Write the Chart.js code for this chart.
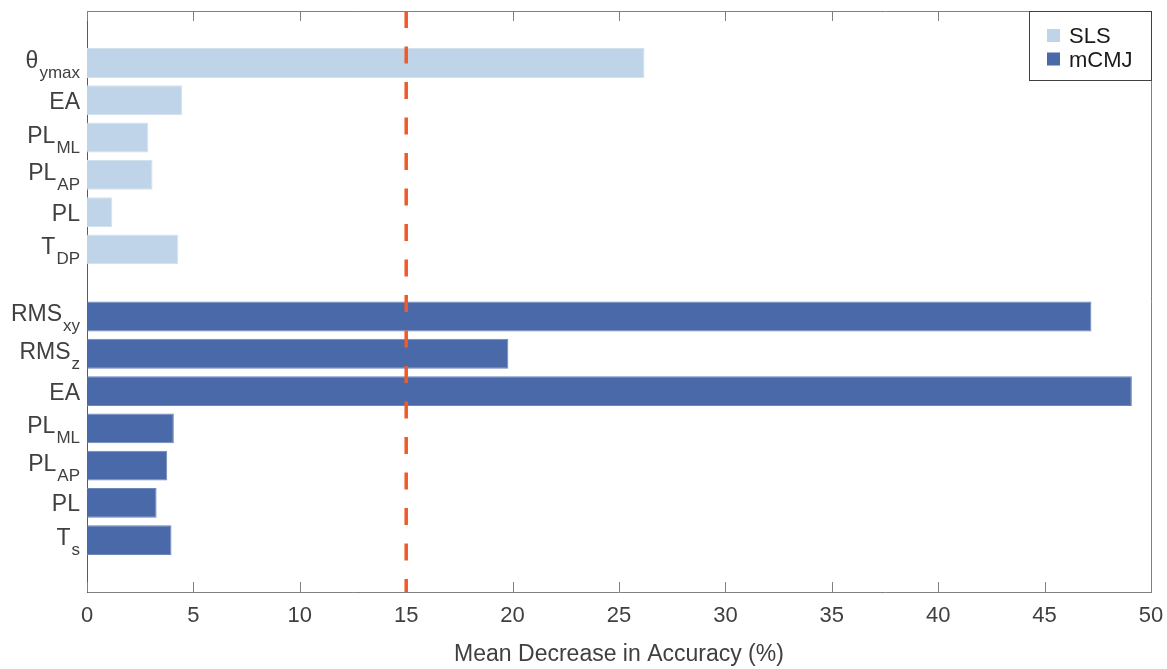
<!DOCTYPE html>
<html>
<head>
<meta charset="utf-8">
<script src="https://cdn.jsdelivr.net/npm/chart.js@4/dist/chart.umd.min.js"></script>
<style>
  html, body { margin: 0; padding: 0; background: #fff; }
  #wrap { width: 1167px; height: 669px; position: relative; }
</style>
</head>
<body>
<div id="wrap"><canvas id="ch"></canvas></div>
<script>
// ── data ───────────────────────────────────────────────────────────────────
// labels use "_" to mark the subscript part
const slsLabels  = ['θ_ymax', 'EA', 'PL_ML', 'PL_AP', 'PL', 'T_DP'];
const slsValues  = [26.2, 4.47, 2.88, 3.08, 1.19, 4.29];
const slsRows    = [1, 2, 3, 4, 5, 6];

const cmjLabels  = ['RMS_xy', 'RMS_z', 'EA', 'PL_ML', 'PL_AP', 'PL', 'T_s'];
const cmjValues  = [47.2, 19.8, 49.1, 4.08, 3.77, 3.27, 3.97];
const cmjRows    = [7.8, 8.8, 9.8, 10.8, 11.8, 12.8, 13.8];

const xTicks     = [0, 5, 10, 15, 20, 25, 30, 35, 40, 45, 50];
const threshold  = 15;
const seriesNames = ['SLS', 'mCMJ'];

// ── styles ─────────────────────────────────────────────────────────────────
const SLS_COLOR  = '#BFD4E8';
const CMJ_COLOR  = '#4A69A8';
const AXIS_COLOR = '#808080';
const TEXT_COLOR = '#404040';
const FONT       = '"Liberation Sans", Arial, sans-serif';

const toPts = (vals, rows) => vals.map((v, i) => ({ x: v, y: rows[i] }));

// inward ticks, box top/right, threshold line, y labels and legend
const decor = {
  id: 'decor',
  afterDatasetsDraw(chart) {
    const { ctx, chartArea: a, scales: { x } } = chart;
    ctx.save();
    // box top / right
    ctx.strokeStyle = AXIS_COLOR;
    ctx.lineWidth = 1;
    ctx.beginPath();
    ctx.moveTo(a.left, a.top + 0.5); ctx.lineTo(a.right + 0.5, a.top + 0.5);
    ctx.lineTo(a.right + 0.5, a.bottom);
    ctx.stroke();
    // inward ticks
    ctx.beginPath();
    xTicks.forEach(t => {
      const p = Math.round(x.getPixelForValue(t)) + 0.5;
      ctx.moveTo(p, a.bottom); ctx.lineTo(p, a.bottom - 10);
      ctx.moveTo(p, a.top);    ctx.lineTo(p, a.top + 10);
    });
    ctx.stroke();

    // threshold line
    const px = x.getPixelForValue(threshold);
    ctx.strokeStyle = '#F05A28';
    ctx.lineWidth = 3.5;
    ctx.setLineDash([17, 18.5]);
    ctx.beginPath();
    ctx.moveTo(px, a.top);
    ctx.lineTo(px, a.bottom);
    ctx.stroke();
    ctx.restore();
  },
  afterDraw(chart) {
    const { ctx, chartArea: a, scales: { y } } = chart;
    ctx.save();

    // y labels with subscripts
    const drawLabel = (txt, yv) => {
      const cy = y.getPixelForValue(yv);
      const [main, sub] = txt.split('_');
      const rx = a.left - 7;
      ctx.fillStyle = TEXT_COLOR;
      ctx.textBaseline = 'alphabetic';
      if (!sub) {
        ctx.font = '23px ' + FONT;
        ctx.textAlign = 'right';
        ctx.fillText(main, rx, cy + 8.5);
        return;
      }
      ctx.font = '17px ' + FONT;
      const sw = ctx.measureText(sub).width;
      ctx.textAlign = 'right';
      ctx.fillText(sub, rx, cy + 15);
      ctx.font = '23px ' + FONT;
      ctx.fillText(main, rx - sw - 1, cy + 5);
    };
    slsLabels.forEach((l, i) => drawLabel(l, slsRows[i]));
    cmjLabels.forEach((l, i) => drawLabel(l, cmjRows[i]));

    // legend box top-right
    const lx = a.right - 122, ly = a.top, lw = 122, lh = 69;
    ctx.fillStyle = '#fff';
    ctx.fillRect(lx, ly, lw, lh);
    ctx.strokeStyle = '#404040';
    ctx.lineWidth = 1;
    ctx.strokeRect(lx + 0.5, ly + 0.5, lw, lh);
    ctx.font = '22px ' + FONT;
    ctx.textAlign = 'left';
    ctx.textBaseline = 'alphabetic';
    chart.data.datasets.forEach((ds, i) => {
      const cy = ly + 24.5 + i * 23.5;
      ctx.fillStyle = ds.backgroundColor;
      ctx.fillRect(lx + 18, cy - 6.5, 13, 13);
      ctx.fillStyle = '#1a1a1a';
      ctx.fillText(ds.label, lx + 40, cy + 7.5);
    });
    ctx.restore();
  }
};

new Chart(document.getElementById('ch'), {
  type: 'bar',
  data: {
    datasets: [
      { label: seriesNames[0], data: toPts(slsValues, slsRows), backgroundColor: SLS_COLOR,
        borderColor: '#D3E1EF', borderWidth: 1 },
      { label: seriesNames[1], data: toPts(cmjValues, cmjRows), backgroundColor: CMJ_COLOR,
        borderColor: '#6A86BD', borderWidth: 1 }
    ]
  },
  options: {
    indexAxis: 'y',
    responsive: true,
    maintainAspectRatio: false,
    animation: false,
    grouped: false,
    categoryPercentage: 1,
    barPercentage: 0.8,
    layout: { padding: { left: 87, right: 16, top: 11, bottom: 0 } },
    plugins: { legend: { display: false }, tooltip: { enabled: false } },
    scales: {
      x: {
        type: 'linear', min: 0, max: 50,
        afterBuildTicks: s => { s.ticks = xTicks.map(v => ({ value: v })); },
        afterFit: s => { s.paddingRight = 0; s.paddingLeft = 0; },
        grid: { display: false, drawTicks: false },
        border: { display: true, color: AXIS_COLOR },
        ticks: { color: TEXT_COLOR, padding: 11, maxRotation: 0, font: { family: FONT, size: 22 } },
        title: { display: true, text: 'Mean Decrease in Accuracy (%)', color: TEXT_COLOR,
                 padding: { top: 0, bottom: 1 }, font: { family: FONT, size: 23 } }
      },
      y: {
        type: 'linear', reverse: true, min: -0.394, max: 15.19, offset: false,
        grid: { display: false, drawTicks: false },
        border: { display: true, color: '#5a5a5a' },
        ticks: { display: false, stepSize: 1, includeBounds: false }
      }
    }
  },
  plugins: [decor]
});
</script>
</body>
</html>
